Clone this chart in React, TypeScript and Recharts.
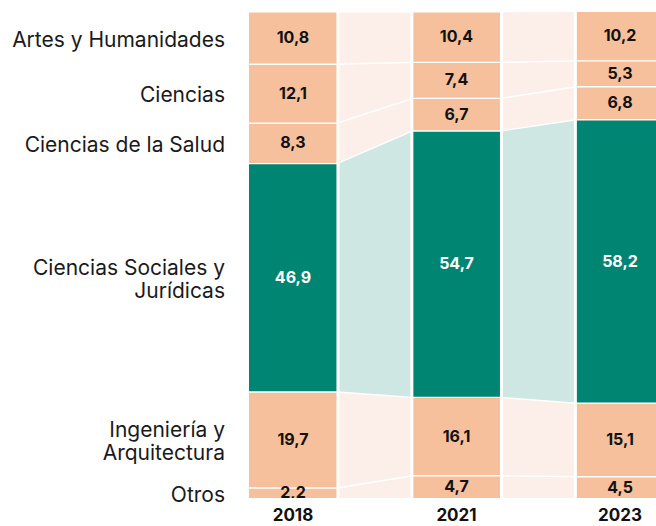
import { ComposedChart, Area, Scatter, XAxis, YAxis, ReferenceLine } from 'recharts'

const years = ['2018', '2021', '2023']
const categories = [
  'Otros',
  'Ingeniería y Arquitectura',
  'Ciencias Sociales y Jurídicas',
  'Ciencias de la Salud',
  'Ciencias',
  'Artes y Humanidades',
]
const tickLines = [
  ['Otros'],
  ['Ingeniería y', 'Arquitectura'],
  ['Ciencias Sociales y', 'Jurídicas'],
  ['Ciencias de la Salud'],
  ['Ciencias'],
  ['Artes y Humanidades'],
]
const otros = [2.2, 4.7, 4.5]
const ingenieria = [19.7, 16.1, 15.1]
const sociales = [46.9, 54.7, 58.2]
const salud = [8.3, 6.7, 6.8]
const ciencias = [12.1, 7.4, 5.3]
const artes = [10.8, 10.4, 10.2]

const series = [otros, ingenieria, sociales, salud, ciencias, artes]
const keys = categories.map((_, c) => 'c' + c)
const HIGHLIGHT = 2

// half bar width, in units of one year slot
const H = 0.269
const SPAN = 2 + 2 * H

const rows: Record<string, number>[] = []
years.forEach((_, i) => {
  ;[-H, H].forEach((dx) => {
    const row: Record<string, number> = { x: i + dx }
    series.forEach((s, c) => (row[keys[c]] = s[i]))
    rows.push(row)
  })
})

const labels: { x: number; y: number; v: number; c: number }[] = []
years.forEach((_, i) => {
  let acc = 0
  series.forEach((s, c) => {
    labels.push({ x: i, y: acc + s[i] / 2, v: s[i], c })
    acc += s[i]
  })
})

const ticks2018: number[] = []
{
  let acc = 0
  series.forEach((s) => {
    ticks2018.push(acc + s[0] / 2)
    acc += s[0]
  })
}

const font = 'Inter, "Noto Sans", sans-serif'

function CatTick(props: any) {
  const { x, y, payload } = props
  let idx = 0
  ticks2018.forEach((t, i) => {
    if (Math.abs(t - payload.value) < Math.abs(ticks2018[idx] - payload.value)) idx = i
  })
  const lines = tickLines[idx]
  const lh = 23
  const start = y - ((lines.length - 1) * lh) / 2 + 2
  return (
    <text textAnchor="end" fontFamily={font} fontSize={21} fill="#1a1a1a">
      {lines.map((l, k) => (
        <tspan key={k} x={x} y={start + k * lh} dy="0.35em">{l}</tspan>
      ))}
    </text>
  )
}

function ValueLabel(props: any) {
  const { cx, cy, payload } = props
  return (
    <text x={cx} y={cy} dy="0.36em" textAnchor="middle" fontFamily={font} fontSize={16} fontWeight={700}
      fill={payload.c === HIGHLIGHT ? '#ffffff' : '#111111'}>
      {payload.v.toFixed(1).replace('.', ',')}
    </text>
  )
}

function gradStops(dark: string, light: string) {
  const stops: { o: number; col: string }[] = []
  years.forEach((_, i) => {
    const a = i / SPAN
    const b = (i + 2 * H) / SPAN
    stops.push({ o: a, col: dark }, { o: b, col: dark })
    if (i < years.length - 1) {
      stops.push({ o: b, col: light }, { o: (i + 1) / SPAN, col: light })
    }
  })
  return stops.map((s, k) => <stop key={k} offset={s.o} stopColor={s.col} />)
}

export default function App() {
  const edges: number[] = []
  years.forEach((_, i) => edges.push(i - H, i + H))

  return (
    <div style={{ position: 'absolute', left: 8, top: 8, width: 648, height: 518, overflow: 'hidden', background: '#fff' }}>
      <ComposedChart width={656} height={518} data={rows} margin={{ top: 3, right: 0, left: 0, bottom: 0 }}>
        <defs>
          <linearGradient id="gPeach" x1="0" y1="0" x2="1" y2="0">
            {gradStops('#F5C09B', '#FCEFE9')}
          </linearGradient>
          <linearGradient id="gGreen" x1="0" y1="0" x2="1" y2="0">
            {gradStops('#008573', '#CFE7E3')}
          </linearGradient>
        </defs>
        <XAxis
          dataKey="x"
          type="number"
          domain={[-H, 2 + H]}
          ticks={[0, 1, 2]}
          tickFormatter={(v) => years[v]}
          axisLine={false}
          tickLine={false}
          height={28}
          tickMargin={5}
          tick={{ fontFamily: font, fontSize: 17, fontWeight: 700, fill: '#111' }}
          allowDataOverflow
        />
        <YAxis
          type="number"
          domain={[0, 100]}
          allowDataOverflow
          ticks={ticks2018}
          interval={0}
          width={241}
          axisLine={false}
          tickLine={false}
          tickSize={0}
          tickMargin={24}
          tick={<CatTick />}
        />
        {keys.map((k, c) => (
          <Area
            key={k}
            dataKey={k}
            stackId="a"
            type="linear"
            fill={c === HIGHLIGHT ? 'url(#gGreen)' : 'url(#gPeach)'}
            fillOpacity={1}
            stroke="#ffffff"
            strokeWidth={2.8}
            dot={false}
            activeDot={false}
            isAnimationActive={false}
          />
        ))}
        {edges.map((e, k) => (
          <ReferenceLine key={k} x={e + (k % 2 === 0 ? -0.004 : 0.006)} stroke="#ffffff" strokeWidth={3} />
        ))}
        <Scatter data={labels} dataKey="y" shape={<ValueLabel />} isAnimationActive={false} />
      </ComposedChart>
    </div>
  )
}
